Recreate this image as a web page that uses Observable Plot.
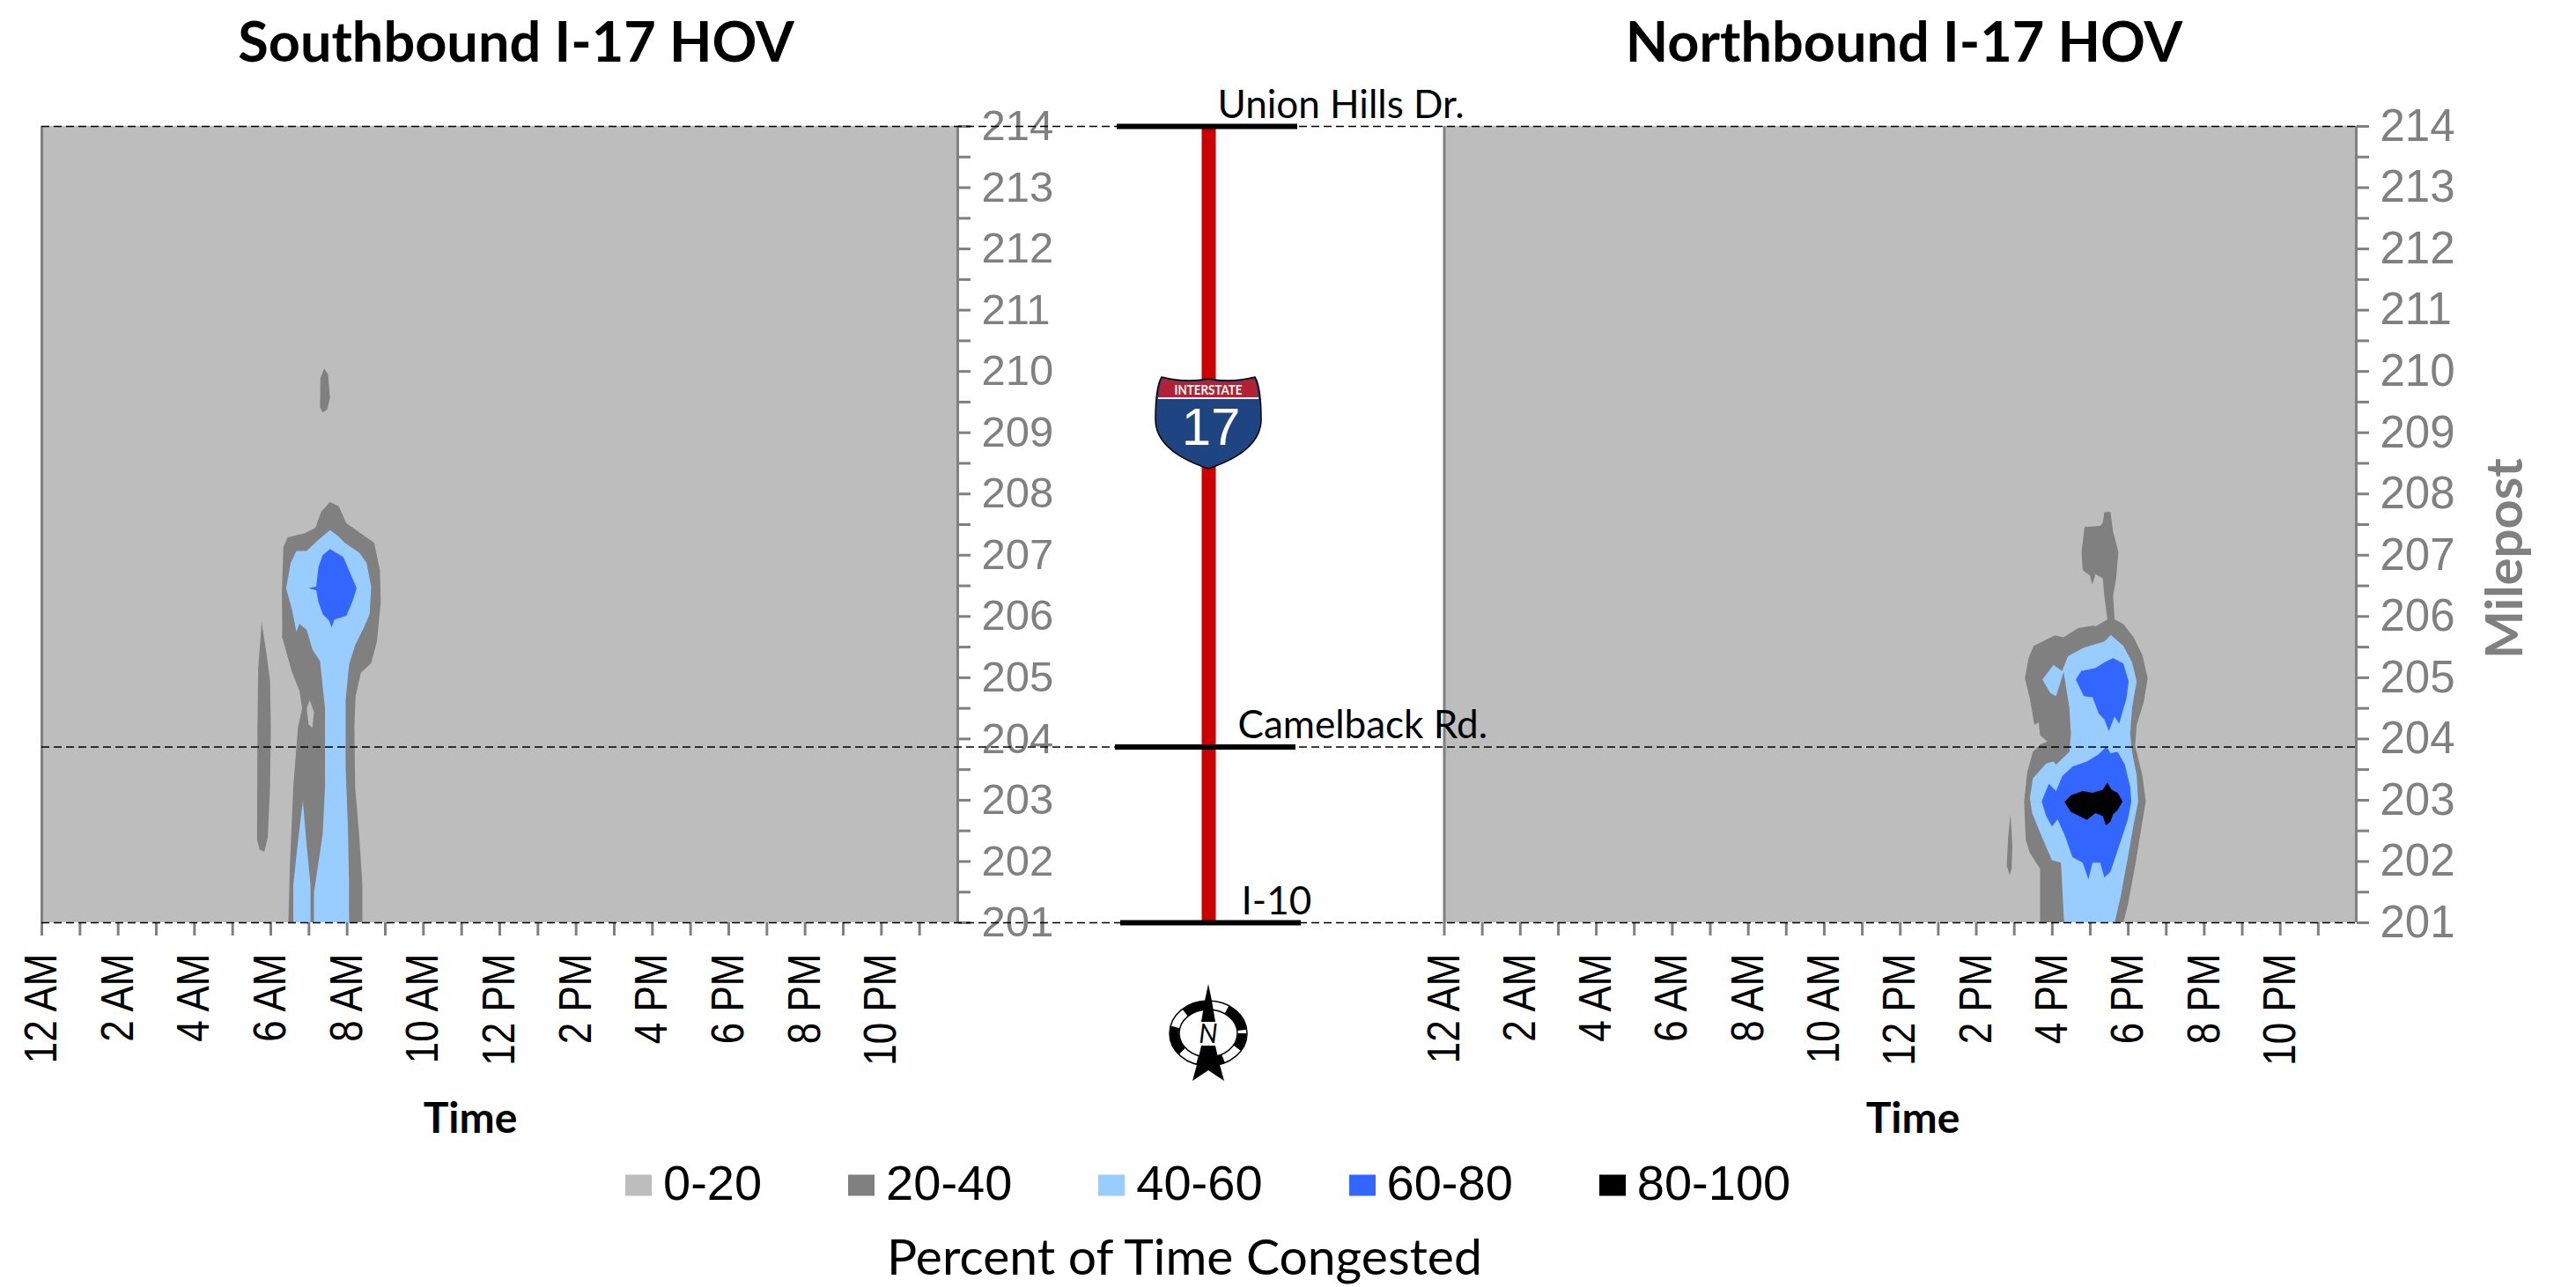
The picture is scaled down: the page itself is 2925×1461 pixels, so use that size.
<!DOCTYPE html>
<html>
<head>
<meta charset="utf-8">
<script src="https://cdn.jsdelivr.net/npm/d3@7"></script>
<script src="https://cdn.jsdelivr.net/npm/@observablehq/plot@0.6"></script>
<style>
html,body{margin:0;padding:0;background:#fff}
#page{position:relative;width:2925px;height:1461px;overflow:hidden;background:#fff}
#page svg.plot-layer{position:absolute;top:0;max-width:none;background:transparent}
.lbl{position:absolute;white-space:nowrap;transform:translate(-50%,-50%);font-family:Lato,sans-serif;color:#000}
#legend{position:absolute;left:710px;top:1342px;transform:translateY(-50%);display:flex;gap:98px;font-family:"Liberation Sans",Arial,sans-serif;font-size:56px;color:#000}
#legend .item{display:flex;align-items:center}
#legend .sw{width:30px;height:24px;margin-right:13px;margin-top:6px}
</style>
</head>
<body>
<div id="page"></div>
<script>
// ---- bands ----
const bands = ["0-20", "20-40", "40-60", "60-80", "80-100"];
const bandColors = ["#BDBDBD", "#808080", "#99CCFF", "#3366FF", "#000000"];

// ---- axes ----
const hourTicks = d3.range(0, 24);
const hourLabels = ["12 AM","2 AM","4 AM","6 AM","8 AM","10 AM","12 PM","2 PM","4 PM","6 PM","8 PM","10 PM"];
const mileTicks = d3.range(201, 215);
const mileHalfTicks = d3.range(201.5, 214, 1);

// ---- landmarks along the route ----
const landmarkNames = ["Union Hills Dr.", "Camelback Rd.", "I-10"];
const landmarkMiles = [214, 203.87, 201];

// ---- Southbound contours: [hour of day, milepost] ----
const sb20a = [[7.40,210.05],[7.50,209.95],[7.55,209.57],[7.48,209.38],[7.36,209.33],[7.29,209.41],[7.30,209.89]];
const sb20b = [[5.76,205.91],[5.87,205.46],[5.98,204.95],[6.00,204.18],[5.98,203.22],[5.92,202.39],[5.83,202.16],[5.71,202.19],[5.64,202.35],[5.65,204.18],[5.67,205.14]];
const sb20c = [[7.55,207.87],[7.78,207.80],[7.98,207.52],[8.44,207.32],[8.71,207.20],[8.86,206.75],[8.88,206.23],[8.78,205.59],[8.63,205.24],[8.36,205.08],[8.22,204.69],[8.19,204.18],[8.21,203.22],[8.32,202.39],[8.40,201.62],[8.40,201],[6.46,201],[6.50,201.94],[6.59,203.22],[6.71,204.18],[6.82,204.50],[6.75,204.79],[6.56,205.08],[6.30,205.66],[6.29,206.43],[6.33,207.13],[6.44,207.29],[6.90,207.36],[7.17,207.45],[7.32,207.71]];
const sbHole = [[7.02,204.63],[7.13,204.44],[7.09,204.18],[6.99,204.24],[6.94,204.50]];
const sb40a = [[7.55,207.41],[7.75,207.32],[7.94,207.20],[8.32,207.04],[8.51,206.87],[8.63,206.49],[8.59,206.04],[8.44,205.82],[8.21,205.53],[8.05,205.21],[7.96,204.63],[7.96,203.54],[8.02,202.58],[8.05,201.62],[8.05,201],[7.13,201],[7.13,201.49],[7.36,202.45],[7.42,203.22],[7.42,204.50],[7.29,205.27],[7.09,205.46],[6.94,205.78],[6.75,205.88],[6.67,205.75],[6.56,206.10],[6.40,206.46],[6.52,206.87],[6.67,207.07],[6.94,207.07],[7.21,207.23]];
const sb40b = [[6.84,202.99],[6.94,202.26],[7.04,201.62],[7.04,201],[6.59,201],[6.59,201.62],[6.71,202.32]];
const sb60 = [[7.55,207.10],[7.90,206.97],[8.05,206.75],[8.25,206.46],[8.13,206.23],[7.98,206.01],[7.67,205.95],[7.59,205.82],[7.53,205.93],[7.36,206.04],[7.25,206.23],[7.19,206.43],[6.99,206.46],[7.19,206.49],[7.25,206.81],[7.36,207.00]];

// ---- Northbound contours: [hour of day, milepost] ----
const nb20a = [[14.90,202.77],[14.95,202.26],[14.93,201.88],[14.88,201.78],[14.80,201.93],[14.84,202.41]];
const nb20b = [[17.37,207.70],[17.53,207.71],[17.60,207.39],[17.74,207.05],[17.68,206.62],[17.60,206.33],[17.64,205.95],[17.87,205.88],[18.14,205.66],[18.37,205.37],[18.51,204.99],[18.41,204.61],[18.22,204.23],[18.18,203.89],[18.37,203.41],[18.46,202.98],[18.33,202.50],[18.18,201.93],[17.99,201.30],[17.87,201],[15.68,201],[15.68,201.88],[15.41,202.14],[15.30,202.36],[15.26,202.98],[15.34,203.46],[15.49,203.79],[15.68,203.91],[15.87,203.96],[15.68,204.06],[15.64,204.27],[15.53,204.23],[15.41,204.66],[15.28,204.99],[15.38,205.33],[15.51,205.52],[16.07,205.69],[16.30,205.66],[16.68,205.81],[17.06,205.85],[17.14,205.84],[17.45,205.95],[17.37,206.33],[17.33,206.62],[17.14,206.69],[17.05,206.52],[16.99,206.67],[16.80,206.76],[16.77,207.05],[16.85,207.46],[17.26,207.48],[17.33,207.53]];
const nb40 = [[17.54,205.70],[17.87,205.52],[18.10,205.25],[18.22,204.94],[18.10,204.51],[18.05,204.08],[18.10,203.79],[18.22,203.41],[18.26,202.98],[18.14,202.60],[17.99,202.07],[17.79,201.40],[17.64,201],[16.31,201],[16.23,201.98],[15.99,202.02],[15.72,202.41],[15.47,202.79],[15.41,203.03],[15.49,203.36],[15.84,203.60],[16.03,203.63],[16.10,203.58],[16.45,203.79],[16.49,204.08],[16.45,204.51],[16.30,205.09],[16.10,204.70],[15.95,204.75],[15.74,204.97],[16.03,205.21],[16.26,205.11],[16.41,205.35],[16.83,205.49],[17.37,205.59]];
const nb60a = [[17.60,205.32],[17.87,205.23],[18.01,204.94],[17.95,204.66],[17.76,204.25],[17.64,204.37],[17.49,204.13],[17.37,204.32],[17.22,204.42],[17.06,204.68],[16.83,204.70],[16.62,204.97],[16.76,205.11],[17.14,205.16],[17.37,205.25]];
const nb60b = [[17.43,203.88],[17.53,203.77],[17.72,203.79],[17.91,203.58],[18.05,203.22],[18.08,202.98],[17.99,202.69],[17.76,202.26],[17.53,201.83],[17.37,201.74],[17.26,201.98],[17.06,201.98],[16.95,201.71],[16.80,201.98],[16.53,202.07],[16.34,202.41],[16.14,202.69],[15.99,202.57],[15.84,202.74],[15.72,202.98],[15.91,203.27],[16.10,203.15],[16.26,203.39],[16.53,203.55],[16.91,203.63],[17.22,203.75]];
const nb80 = [[17.45,203.29],[17.56,203.17],[17.72,203.12],[17.85,202.98],[17.72,202.84],[17.60,202.77],[17.53,202.65],[17.41,202.59],[17.33,202.74],[17.14,202.79],[16.91,202.68],[16.72,202.74],[16.49,202.81],[16.32,202.97],[16.49,203.08],[16.80,203.15],[17.06,203.12],[17.33,203.17]];

const southContours = [["20-40",sb20a],["20-40",sb20b],["20-40",sb20c],["0-20",sbHole],["40-60",sb40a],["40-60",sb40b],["60-80",sb60]];
const northContours = [["20-40",nb20a],["20-40",nb20b],["40-60",nb40],["60-80",nb60a],["60-80",nb60b],["80-100",nb80]];

// ---- layout constants ----
const PLOT_TOP = 143, PLOT_BOTTOM = 1047, H = 1461, W = 2925;
const SANS = '"Liberation Sans", Arial, sans-serif';
const GREY = "#808080";
const page = document.getElementById("page");

function rows(contours) {
  return contours.flatMap(([band, pts], id) => pts.map(([hour, mile]) => ({id, band, hour, mile})));
}

function panel(contours, svgLeft, svgWidth, x0, x1, mileFont) {
  const svg = Plot.plot({
    width: svgWidth, height: H,
    marginTop: PLOT_TOP, marginBottom: H - PLOT_BOTTOM,
    marginLeft: x0 - svgLeft, marginRight: svgLeft + svgWidth - x1,
    style: {fontFamily: SANS, background: "transparent", overflow: "visible"},
    x: {domain: [0, 24], axis: null},
    y: {domain: [201, 214], axis: null},
    color: {domain: bands, range: bandColors},
    marks: [
      Plot.rect([{band: "0-20"}], {x1: () => 0, x2: () => 24, y1: () => 201, y2: () => 214, fill: "band"}),
      Plot.line(rows(contours), {x: "hour", y: "mile", z: "id", fill: "band", stroke: "none", curve: "linear-closed", clip: true}),
      Plot.ruleX([0, 24], {stroke: GREY, strokeWidth: 3}),
      Plot.axisX({ticks: hourTicks, anchor: "bottom", tickSize: 15, tickFormat: () => "", color: GREY, strokeWidth: 3, label: null}),
      Plot.axisX({ticks: d3.range(0, 24, 2), anchor: "bottom", tickSize: 0, tickPadding: 35, tickRotate: -90, fontSize: 44,
        tickFormat: (d) => hourLabels[d / 2], color: "#000", label: null}),
      Plot.axisY({ticks: mileHalfTicks, anchor: "right", tickSize: 14, tickFormat: () => "", color: GREY, strokeWidth: 3, label: null}),
      Plot.axisY({ticks: mileTicks, anchor: "right", tickSize: 14, tickPadding: 13, fontSize: mileFont, tickFormat: (d) => String(d), color: GREY, strokeWidth: 3, label: null})
    ]
  });
  svg.classList.add("plot-layer");
  svg.style.left = svgLeft + "px";
  // the source chart's rotated time labels are stretched across their reading direction
  svg.querySelectorAll("text[transform*='rotate']").forEach((t) => {
    t.setAttribute("transform", t.getAttribute("transform") + " scale(1,1.18)");
  });
  page.appendChild(svg);
}

panel(southContours, 0, 1300, 47, 1087, 49);
panel(northContours, 1500, 1425, 1639.5, 2675, 51);

// ---- route overlay ----
const ROUTE_X = 1372;
const landmarks = landmarkNames.map((name, i) => ({name, mile: landmarkMiles[i]}));
const overlay = Plot.plot({
  width: W, height: H,
  marginTop: PLOT_TOP, marginBottom: H - PLOT_BOTTOM, marginLeft: 0, marginRight: 0,
  style: {fontFamily: "Lato, sans-serif", background: "transparent", overflow: "visible"},
  x: {domain: [0, W], axis: null},
  y: {domain: [201, 214], axis: null},
  marks: [
    Plot.ruleX([ROUTE_X], {y1: () => 214, y2: () => 201, stroke: "#CC0000", strokeWidth: 16}),
    Plot.ruleY(landmarkMiles, {x1: () => 47, x2: () => 2675, stroke: "#000", strokeWidth: 1.5, strokeDasharray: "9 5"}),
    Plot.ruleY(landmarks, {y: "mile", x1: (d, i) => ROUTE_X + [-104, -106, -100][i], x2: (d, i) => ROUTE_X + [101, 99, 105][i], stroke: "#000", strokeWidth: 6}),
    Plot.text(landmarks, {y: "mile", x: (d, i) => ROUTE_X + [10, 33, 37][i], text: "name", textAnchor: "start", lineAnchor: "bottom",
      dy: -10, fontSize: 44, fill: "#000"})
  ]
});
overlay.classList.add("plot-layer");
overlay.style.left = "0px";
page.appendChild(overlay);

// ---- interstate shield and north arrow ----
const ns = document.createElementNS("http://www.w3.org/2000/svg", "svg");
ns.setAttribute("width", W); ns.setAttribute("height", H);
ns.setAttribute("style", "position:absolute;left:0;top:0");
ns.innerHTML = `
<g transform="translate(1372,428)">
  <path d="M-53,0 Q-26,7 0,2 Q26,7 53,0 Q60,12 60,48 C60,78 30,94 0,104 C-30,94 -60,78 -60,48 Q-60,12 -53,0 Z" fill="#1F4482" stroke="#000" stroke-width="1.5"/>
  <path d="M-52,2 Q-26,8 0,4 Q26,8 52,2 Q56,10 56.5,23 L-56.5,23 Q-56,10 -52,2 Z" fill="#B22234"/>
  <rect x="-57" y="23" width="114" height="2" fill="#fff"/>
  <text x="0" y="20" text-anchor="middle" fill="#fff" font-family="Lato, sans-serif" font-size="15" font-weight="700" textLength="77" lengthAdjust="spacingAndGlyphs">INTERSTATE</text>
  <text x="3" y="77" text-anchor="middle" fill="#fff" font-family="Liberation Sans, Arial, sans-serif" font-size="60">17</text>
</g>
<g transform="translate(1372,1173)">
  <ellipse rx="44" ry="37" fill="#fff" stroke="#000" stroke-width="1.5"/>
  <ellipse rx="38.5" ry="32" fill="none" stroke="#000" stroke-width="10" stroke-dasharray="30 20" stroke-dashoffset="12"/>
  <ellipse rx="33" ry="27" fill="#fff" stroke="#000" stroke-width="1.5"/>
  <polygon points="0,-56 4,-37 8,-13 -8,-13 -4,-37" fill="#000"/>
  <polygon points="-8,14 8,14 12,32 18,54 0,42 -18,54 -12,32" fill="#000"/>
  <text x="0" y="11" text-anchor="middle" font-family="Lato, sans-serif" font-style="italic" font-size="30" fill="#000">N</text>
</g>`;
page.appendChild(ns);

// ---- titles and axis titles ----
function label(text, x, y, css) {
  const d = document.createElement("div");
  d.className = "lbl"; d.textContent = text;
  d.style.left = x + "px"; d.style.top = y + "px";
  d.style.cssText += css;
  page.appendChild(d);
}
label("Southbound I-17 HOV", 586, 44.5, "font-size:63px;font-weight:700");
label("Northbound I-17 HOV", 2162, 44.5, "font-size:63px;font-weight:700");
label("Time", 534, 1267, "font-size:48px;font-weight:700");
label("Time", 2172, 1267, "font-size:48px;font-weight:700");
label("Percent of Time Congested", 1345, 1425, "font-size:57px");
label("Milepost", 2841, 634, "font-size:58px;font-weight:700;color:#808080;transform:translate(-50%,-50%) rotate(-90deg)");

// ---- legend ----
const legend = document.createElement("div");
legend.id = "legend";
bands.forEach((b, i) => {
  const item = document.createElement("div"); item.className = "item";
  const sw = document.createElement("div"); sw.className = "sw"; sw.style.background = bandColors[i];
  const t = document.createElement("span"); t.textContent = b;
  item.append(sw, t); legend.appendChild(item);
});
page.appendChild(legend);
</script>
</body>
</html>
